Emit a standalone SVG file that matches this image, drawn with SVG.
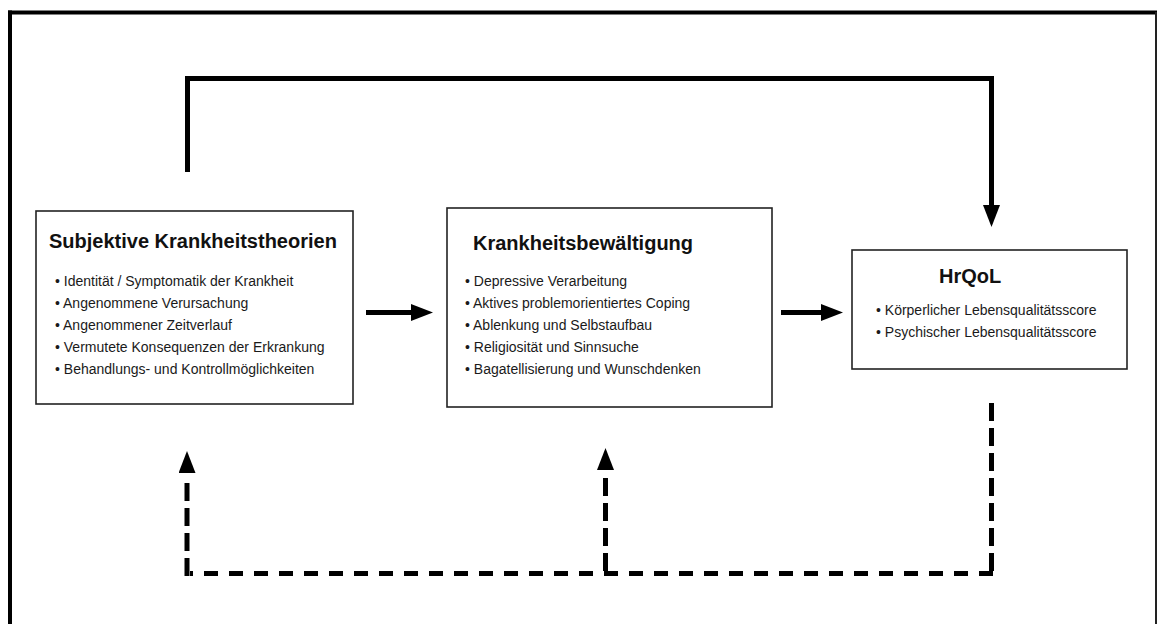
<svg xmlns="http://www.w3.org/2000/svg" width="1159" height="624" viewBox="0 0 1159 624">
<style>
.box{fill:#fff;stroke:#222;stroke-width:1.6}
.title{font-family:"Liberation Sans",Arial,sans-serif;font-weight:bold;font-size:20px;fill:#111}
.item{font-family:"Liberation Sans",Arial,sans-serif;font-size:14px;fill:#1a1a1a}
.solid{fill:none;stroke:#000;stroke-width:5}
.dv{fill:none;stroke:#000;stroke-width:5;stroke-dasharray:18 7}
.dh{fill:none;stroke:#000;stroke-width:5;stroke-dasharray:14 11}
.tip{fill:none;stroke:none}
</style>
<defs>
<marker id="head" markerUnits="userSpaceOnUse" markerWidth="23" markerHeight="18" refX="0" refY="8.5" orient="auto" viewBox="0 0 23 18">
<path d="M0,0 L22,8.5 L0,17 z" fill="#000"/>
</marker>
</defs>
<rect width="1159" height="624" fill="#fff"/>
<g id="frame">
<line x1="8" y1="12.5" x2="1157" y2="12.5" stroke="#000" stroke-width="4"/>
<line x1="10" y1="10.5" x2="10" y2="624" stroke="#000" stroke-width="4"/>
<line x1="1156" y1="12" x2="1156" y2="624" stroke="#222" stroke-width="2"/>
</g>
<g id="connectors">
<path class="solid" d="M187.5,172 V78.5 H991.5 V205" marker-end="url(#head)"/>
<path class="solid" d="M366,312.5 H411" marker-end="url(#head)"/>
<path class="solid" d="M781,312.5 H821" marker-end="url(#head)"/>
<path class="dv" d="M991.5,403 V576"/>
<path class="dh" d="M993,573.5 H190"/>
<path class="dv" d="M187,483 V576"/>
<path class="tip" d="M187,474 V473" marker-end="url(#head)"/>
<path class="dv" d="M605.5,478 V571"/>
<path class="tip" d="M605.5,471 V470" marker-end="url(#head)"/>
</g>
<g id="node-subjektive">
<rect class="box" x="36" y="211" width="317" height="193"/>
<text class="title" x="49" y="248">Subjektive Krankheitstheorien</text>
<text class="item" x="55" y="286">• Identität / Symptomatik der Krankheit</text>
<text class="item" x="55" y="308">• Angenommene Verursachung</text>
<text class="item" x="55" y="330">• Angenommener Zeitverlauf</text>
<text class="item" x="55" y="352">• Vermutete Konsequenzen der Erkrankung</text>
<text class="item" x="55" y="374">• Behandlungs- und Kontrollmöglichkeiten</text>
</g>
<g id="node-bewaeltigung">
<rect class="box" x="447" y="208" width="325" height="199"/>
<text class="title" x="473" y="250">Krankheitsbewältigung</text>
<text class="item" x="465" y="286">• Depressive Verarbeitung</text>
<text class="item" x="465" y="308">• Aktives problemorientiertes Coping</text>
<text class="item" x="465" y="330">• Ablenkung und Selbstaufbau</text>
<text class="item" x="465" y="352">• Religiosität und Sinnsuche</text>
<text class="item" x="465" y="374">• Bagatellisierung und Wunschdenken</text>
</g>
<g id="node-hrqol">
<rect class="box" x="852" y="250" width="275" height="119"/>
<text class="title" x="939" y="283">HrQoL</text>
<text class="item" x="876" y="315">• Körperlicher Lebensqualitätsscore</text>
<text class="item" x="876" y="337">• Psychischer Lebensqualitätsscore</text>
</g>
</svg>
